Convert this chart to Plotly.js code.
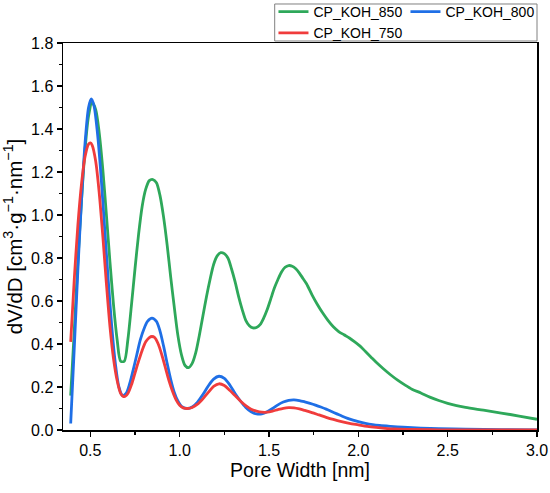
<!DOCTYPE html>
<html>
<head>
<meta charset="utf-8">
<script src="https://cdn.plot.ly/plotly-3.0.1.min.js"></script>
<style>html,body{margin:0;padding:0;background:#fff;}#chart{width:550px;height:493px;}</style>
</head>
<body>
<div id="chart"></div>
<script>
// Pore width [nm] and dV/dD values
const x850 = [0.39,0.41,0.43,0.45,0.47,0.49,0.51,0.53,0.55,0.57,0.59,0.61,0.63,0.65,0.67,0.69,0.71,0.73,0.75,0.77,0.79,0.81,0.83,0.85,0.87,0.89,0.91,0.93,0.95,0.97,0.99,1.01,1.03,1.05,1.07,1.09,1.11,1.13,1.15,1.17,1.19,1.21,1.23,1.25,1.27,1.29,1.31,1.33,1.35,1.37,1.39,1.41,1.43,1.45,1.47,1.49,1.51,1.53,1.55,1.57,1.59,1.61,1.63,1.65,1.67,1.69,1.71,1.74,1.77,1.80,1.83,1.86,1.89,1.92,1.95,1.98,2.01,2.04,2.07,2.10,2.14,2.18,2.22,2.26,2.30,2.35,2.40,2.45,2.50,2.55,2.60,2.70,2.80,2.90,3.00];
const y850 = [0.16,0.46,0.78,1.06,1.30,1.46,1.525,1.49,1.38,1.21,1.00,0.78,0.58,0.42,0.32,0.32,0.42,0.58,0.75,0.91,1.04,1.12,1.16,1.165,1.15,1.09,0.99,0.86,0.71,0.57,0.44,0.35,0.30,0.29,0.31,0.36,0.44,0.53,0.62,0.70,0.77,0.81,0.825,0.82,0.80,0.75,0.69,0.62,0.56,0.51,0.485,0.475,0.477,0.49,0.52,0.56,0.61,0.66,0.70,0.735,0.757,0.765,0.762,0.75,0.73,0.705,0.68,0.63,0.585,0.545,0.51,0.48,0.458,0.443,0.428,0.41,0.39,0.365,0.34,0.315,0.285,0.257,0.232,0.21,0.19,0.172,0.153,0.137,0.124,0.113,0.105,0.092,0.079,0.065,0.050];

const x800 = [0.39,0.41,0.43,0.45,0.47,0.49,0.505,0.52,0.54,0.56,0.58,0.60,0.62,0.64,0.66,0.68,0.70,0.72,0.74,0.76,0.78,0.80,0.82,0.845,0.87,0.89,0.91,0.93,0.95,0.97,0.99,1.01,1.04,1.07,1.10,1.13,1.16,1.19,1.22,1.25,1.28,1.31,1.34,1.37,1.40,1.43,1.46,1.49,1.52,1.55,1.58,1.61,1.64,1.67,1.70,1.73,1.76,1.79,1.82,1.85,1.88,1.91,1.94,1.97,2.00,2.04,2.08,2.12,2.18,2.25,2.35,2.45,2.60,2.80,3.00];
const y800 = [0.03,0.38,0.74,1.06,1.33,1.50,1.54,1.51,1.38,1.18,0.94,0.70,0.48,0.31,0.20,0.16,0.17,0.215,0.28,0.35,0.42,0.47,0.505,0.52,0.505,0.46,0.39,0.31,0.235,0.175,0.135,0.11,0.10,0.107,0.13,0.165,0.205,0.237,0.25,0.24,0.21,0.17,0.135,0.105,0.085,0.075,0.075,0.085,0.10,0.117,0.13,0.138,0.14,0.137,0.131,0.124,0.116,0.107,0.097,0.086,0.075,0.064,0.054,0.046,0.039,0.031,0.025,0.021,0.017,0.013,0.009,0.006,0.004,0.002,0.001];

const x750 = [0.39,0.41,0.43,0.45,0.47,0.49,0.50,0.51,0.53,0.55,0.57,0.59,0.61,0.63,0.65,0.67,0.69,0.71,0.73,0.75,0.77,0.79,0.81,0.83,0.845,0.86,0.88,0.90,0.92,0.94,0.96,0.98,1.00,1.02,1.045,1.07,1.10,1.13,1.16,1.19,1.22,1.25,1.28,1.31,1.34,1.37,1.40,1.43,1.46,1.49,1.52,1.55,1.58,1.61,1.64,1.67,1.70,1.74,1.78,1.82,1.86,1.90,1.95,2.00,2.05,2.10,2.15,2.20,2.30,2.45,3.00];
const y750 = [0.41,0.70,0.95,1.14,1.27,1.33,1.335,1.325,1.25,1.10,0.90,0.68,0.48,0.33,0.23,0.17,0.155,0.17,0.21,0.265,0.32,0.37,0.41,0.43,0.435,0.43,0.40,0.35,0.29,0.23,0.18,0.14,0.115,0.103,0.10,0.105,0.12,0.145,0.175,0.203,0.215,0.207,0.185,0.16,0.135,0.113,0.097,0.088,0.083,0.083,0.088,0.095,0.101,0.104,0.103,0.098,0.091,0.081,0.07,0.059,0.049,0.04,0.031,0.024,0.017,0.012,0.008,0.005,0.003,0.001,0.0];

const seriesNames = ['CP_KOH_850','CP_KOH_800','CP_KOH_750'];
const seriesColors = ['#2ea85a','#1f6fe6','#f03c3c'];

const font = 'Arial, "Liberation Sans", Helvetica, sans-serif';
const xs = [x850, x800, x750];
const ys = [y850, y800, y750];

const traces = seriesNames.map((n, i) => ({
  type: 'scatter', mode: 'lines', name: n,
  x: xs[i], y: ys[i],
  line: {color: seriesColors[i], width: 2.8, shape: 'spline', smoothing: 0.8}
}));

const axisCommon = {
  showgrid: false, zeroline: false,
  showline: true, linecolor: '#000', linewidth: 1.5, mirror: true,
  ticks: 'outside', ticklen: 5, tickwidth: 1.2, tickcolor: '#000',
  tickfont: {family: font, size: 16, color: '#000'},
  tickformat: '.1f'
};

const layout = {
  width: 550, height: 493,
  margin: {l: 63, r: 13, t: 43, b: 63, autoexpand: false},
  paper_bgcolor: '#fff', plot_bgcolor: '#fff',
  font: {family: font, color: '#000'},
  showlegend: true,
  xaxis: Object.assign({}, axisCommon, {
    range: [0.347, 3.0], tick0: 0.5, dtick: 0.5,
    minor: {dtick: 0.25, tick0: 0.25, ticks: 'outside', ticklen: 3, tickwidth: 1.2, tickcolor: '#000'},
    title: {text: 'Pore Width [nm]', font: {family: font, size: 19.5, color: '#000'}, standoff: 5}
  }),
  yaxis: Object.assign({}, axisCommon, {
    range: [0, 1.8], tick0: 0, dtick: 0.2,
    minor: {dtick: 0.1, ticks: 'outside', ticklen: 3, tickwidth: 1.2, tickcolor: '#000'},
    title: {text: 'dV/dD [cm<sup>3</sup>·g<sup>−1</sup>·nm<sup>−1</sup>]', font: {family: font, size: 20.5, color: '#000'}, standoff: 8}
  }),
  legend: {
    orientation: 'h',
    x: 1.001, xanchor: 'right',
    y: 0.9845, yanchor: 'bottom',
    bgcolor: 'rgba(255,255,255,0)', borderwidth: 0,
    font: {family: font, size: 14, color: '#000'},
    entrywidth: 87, entrywidthmode: 'pixels',
    tracegroupgap: 0
  },
  // frame drawn around the legend, above the plot area
  shapes: [{
    type: 'rect', xref: 'paper', yref: 'paper',
    x0: 0.4466, x1: 1.0, y0: 1.0052, y1: 1.1008,
    line: {color: '#808080', width: 1}, fillcolor: 'rgba(0,0,0,0)', layer: 'above'
  }]
};

Plotly.newPlot('chart', traces, layout, {displayModeBar: false, staticPlot: true});
</script>
</body>
</html>
